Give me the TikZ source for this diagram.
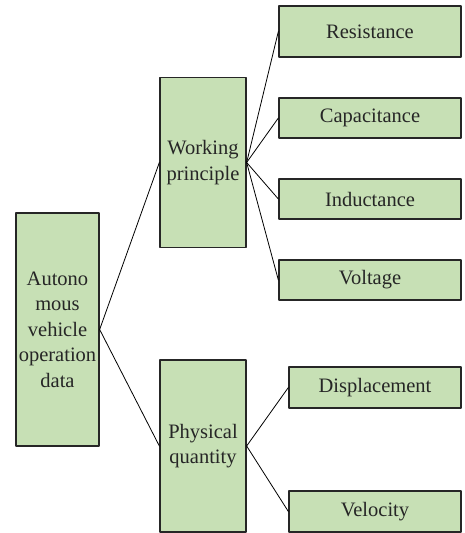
\documentclass[tikz,border=0pt]{standalone}
\usepackage{fontspec}
\setmainfont{Liberation Serif}
\definecolor{ccebb4}{rgb}{0.78,0.88,0.71}
\definecolor{uququq}{rgb}{0.15,0.15,0.15}
\begin{document}
\begin{tikzpicture}[line cap=round,line join=round,x=1pt,y=1pt,
  box/.style={draw=uququq,line width=1.3pt,fill=ccebb4,inner sep=0pt,align=center,text=uququq,
    font=\fontsize{20.5}{25.5}\selectfont},
  edge/.style={color=black,line width=0.8pt}]
      \useasboundingbox (0,0) rectangle (464,533);
      \node[box,minimum width=83,minimum height=233] (data) at (57.5,203.5) {Autono\\mous\\vehicle\\operation\\data};
      \node[box,minimum width=86,minimum height=170] (work) at (203,370.5) {Working\\principle};
      \node[box,minimum width=86,minimum height=172] (phys) at (203,87) {Physical\\quantity};
      \node[box,minimum width=182,minimum height=51] (res) at (370,501.5) {Resistance};
      \node[box,minimum width=182,minimum height=40] (cap) at (370,415) {Capacitance};
      \node[box,minimum width=182,minimum height=40] (ind) at (370,334) {Inductance};
      \node[box,minimum width=182,minimum height=40] (volt) at (370,253) {Voltage};
      \node[box,minimum width=172,minimum height=41] (disp) at (375,145.5) {Displacement};
      \node[box,minimum width=172,minimum height=41] (vel) at (375,21.5) {Velocity};
      \draw[edge] (data.east) -- (work.west);
      \draw[edge] (data.east) -- (phys.west);
      \foreach \c in {res,cap,ind,volt}
        \draw[edge] (work.east) -- (\c.west);
      \draw[edge] (phys.east) -- (disp.west);
      \draw[edge] (phys.east) -- (vel.west);
\end{tikzpicture}
\end{document}
